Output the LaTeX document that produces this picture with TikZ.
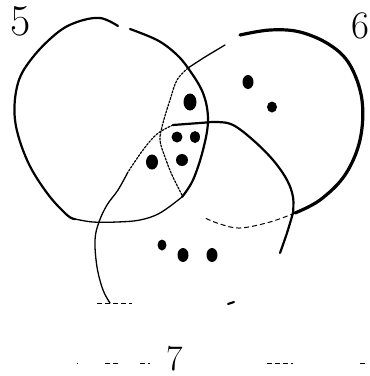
\documentclass[tikz,border=0pt]{standalone}
\begin{document}
\begin{tikzpicture}[x=1pt,y=-1pt,
  thickline/.style={line width=3.2pt,line cap=round,line join=round},
  midline/.style={line width=2.2pt,line cap=round,line join=round},
  thinline/.style={line width=1.3pt,line cap=round,line join=round},
  dotline/.style={line width=1.2pt,dash pattern=on 2pt off 1.5pt,line cap=round},
  faint/.style={line width=1pt,dash pattern=on 5pt off 3pt},
  lab/.style={inner sep=0pt,anchor=base}]
\useasboundingbox (0,0) rectangle (370,376);
% circle 5
\draw[midline] plot[smooth,tension=0.6] coordinates {(130,29) (157,40) (175,53) (188,68) (203,93) (208,120) (203,150) (193,180) (182,197)};
\draw[thinline] plot[smooth,tension=0.6] coordinates {(182,197) (160,213) (140,220) (117,222) (93,222) (75,219)};
\draw[midline] plot[smooth,tension=0.6] coordinates {(75,219) (67,215) (47,193) (27,160) (15,120) (18,83) (33,57) (57,33) (77,22) (100,18) (118,26)};
% circle 6
\draw[thinline] plot[smooth,tension=0.6] coordinates {(188,68) (205,57) (225,45)};
\draw[thickline] plot[smooth,tension=0.6] coordinates {(240,35) (270,30) (300,32) (330,45) (350,65) (362,100) (360,140) (345,175) (320,200) (295,213)};
\draw[faint] plot[smooth,tension=0.6] coordinates {(295,213) (270,222) (240,228) (220,224) (205,218)};
\draw[dotline] plot[smooth,tension=0.6] coordinates {(188,68) (177,80) (170,100) (163,123) (160,140) (165,157) (172,175) (182,195)};
% circle 7
\draw[midline] plot[smooth,tension=0.6] coordinates {(173,125) (200,123) (217,122) (233,125) (253,140) (273,160) (287,180) (293,197) (293,213)};
\draw[midline] plot[smooth,tension=0.6] coordinates {(293,213) (287,233) (280,253)};
\draw[dotline] plot[smooth,tension=0.6] coordinates {(173,125) (157,134) (143,150) (128,172)};
\draw[thinline] plot[smooth,tension=0.6] coordinates {(128,172) (118,190) (107,205) (99,222) (95,240) (97,267) (103,290) (110,303)};
\draw[faint] (97,303) -- (132,303);
\draw[midline] (228,304) -- (234,302);
% dots
\fill (248,82) ellipse (5.5pt and 7pt);
\fill (272,107) ellipse (5pt and 5.5pt);
\fill (190,102) ellipse (6.5pt and 8.5pt);
\fill (177,137) ellipse (5.5pt and 5.5pt);
\fill (195,137) ellipse (5pt and 6pt);
\fill (182,160) ellipse (6pt and 6pt);
\fill (152,162) ellipse (6pt and 7.5pt);
\fill (162,245) ellipse (4.5pt and 5.5pt);
\fill (183,255) ellipse (5.5pt and 7pt);
\fill (212,255) ellipse (5.5pt and 7pt);
% labels
\node[lab,font=\fontsize{44}{44}\selectfont] (l5) at (21,35) {5};
\node[lab,font=\fontsize{39}{39}\selectfont] (l6) at (360,38) {6};
\node[lab,font=\fontsize{36}{36}\selectfont] (l7) at (175,370) {7};
% bottom faint line
\draw[faint] (77,363) -- (78,363);
\draw[faint] (105,363) -- (120,363);
\draw[faint] (140,363) -- (150,363);
\draw[faint] (267,363) -- (293,363);
\draw[faint] (360,363) -- (365,363);
\end{tikzpicture}
\end{document}
